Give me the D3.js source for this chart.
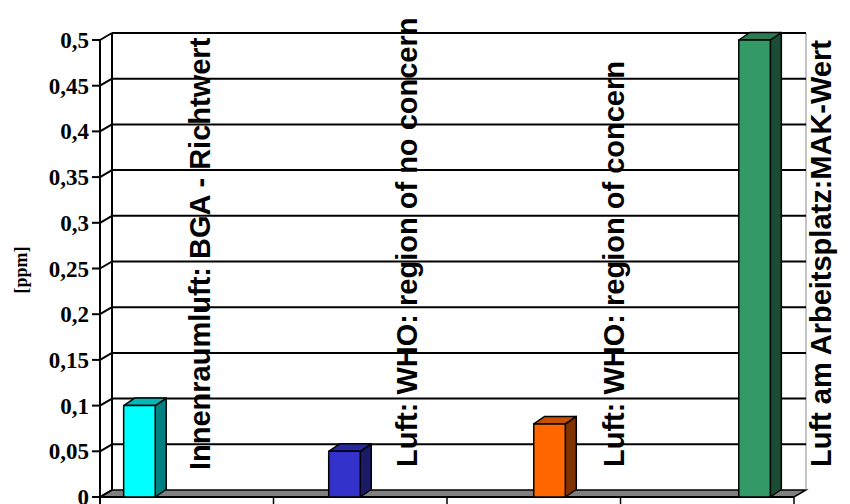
<!DOCTYPE html>
<html><head><meta charset="utf-8">
<script src="https://cdn.jsdelivr.net/npm/d3@7"></script>
<style>html,body{margin:0;padding:0;background:#fff}svg{display:block}</style>
</head><body>
<svg id="chart" width="850" height="504"></svg>
<script>
// ---- data ----
const categories = ["c1", "c2", "c3", "c4"];
const series = [
  "Innenraumluft: BGA - Richtwert",
  "Luft: WHO: region of no concern",
  "Luft: WHO: region of concern",
  "Luft am Arbeitsplatz:MAK-Wert"
];
// values[series][category]; only the diagonal carries a value
const values = [
  [0.1, 0, 0, 0],
  [0, 0.05, 0, 0],
  [0, 0, 0.08, 0],
  [0, 0, 0, 0.5]
];
const yTicks = [0, 0.05, 0.1, 0.15, 0.2, 0.25, 0.3, 0.35, 0.4, 0.45, 0.5];
const yTickLabels = ["0", "0,05", "0,1", "0,15", "0,2", "0,25", "0,3", "0,35", "0,4", "0,45", "0,5"];
const yTitle = "[ppm]";
const colors = [
  {front: "#00FFFF", side: "#008080", top: "#00B8B8"},
  {front: "#3333CC", side: "#1A1A66", top: "#2828A0"},
  {front: "#FF6600", side: "#803300", top: "#C84E00"},
  {front: "#339966", side: "#1A4D33", top: "#2A7A52"}
];

(function () {
// ---- layout ----
const svg = d3.select("#chart");
const pLeft = 100, pRight = 794, pBottom = 497, pTop = 40;
const DX = 12, DY = -7;      // wall depth
const BDX = 11, BDY = -7.5;  // bar depth

const y = d3.scaleLinear().domain([0, 0.5]).range([pBottom, pTop]);
const x0 = d3.scaleBand().domain(categories).range([pLeft, pRight]).padding(0);
const x1 = d3.scaleBand().domain(series).range([0, x0.bandwidth()]).paddingInner(0).paddingOuter(0.75);

// floor
svg.append("path")
  .attr("d", `M${pLeft},${pBottom} L${pLeft+DX},${pBottom+DY} L${pRight+DX},${pBottom+DY} L${pRight},${pBottom} Z`)
  .attr("fill", "#808080").attr("stroke", "#000").attr("stroke-width", 1.5);

// back wall right edge
svg.append("line")
  .attr("x1", pRight+DX).attr("x2", pRight+DX).attr("y1", y(0.5)+DY).attr("y2", pBottom+DY)
  .attr("stroke", "#888").attr("stroke-width", 1);

// back-wall left edge
svg.append("line")
  .attr("x1", pLeft+DX).attr("x2", pLeft+DX).attr("y1", y(0.5)+DY).attr("y2", pBottom+DY)
  .attr("stroke", "#000").attr("stroke-width", 2);

// gridlines + diagonal ticks
yTicks.forEach((t, i) => {
  const yy = y(t);
  if (t > 0) {
    svg.append("line")
      .attr("x1", pLeft+DX).attr("x2", pRight+DX).attr("y1", yy+DY).attr("y2", yy+DY)
      .attr("stroke", "#000").attr("stroke-width", 2);
  }
  svg.append("line")
    .attr("x1", pLeft).attr("x2", pLeft+DX).attr("y1", yy).attr("y2", yy+DY)
    .attr("stroke", "#000").attr("stroke-width", 2);
  svg.append("line")
    .attr("x1", pLeft-8).attr("x2", pLeft).attr("y1", yy).attr("y2", yy)
    .attr("stroke", "#000").attr("stroke-width", 2);
  svg.append("text")
    .attr("x", 89).attr("y", yy).attr("dy", "0.35em")
    .attr("text-anchor", "end")
    .attr("font-family", "'Liberation Serif','Times New Roman',serif")
    .attr("font-weight", "bold").attr("font-size", 23)
    .text(yTickLabels[i]);
});

// front y axis
svg.append("line")
  .attr("x1", pLeft).attr("x2", pLeft).attr("y1", y(0.5)).attr("y2", pBottom+7)
  .attr("stroke", "#000").attr("stroke-width", 2);

// x axis front line & ticks
svg.append("line")
  .attr("x1", pLeft).attr("x2", pRight).attr("y1", pBottom).attr("y2", pBottom)
  .attr("stroke", "#000").attr("stroke-width", 2);
categories.forEach(c => {
  const xx = x0(c) + x0.bandwidth();
  svg.append("line")
    .attr("x1", xx).attr("x2", xx).attr("y1", pBottom).attr("y2", pBottom+7)
    .attr("stroke", "#000").attr("stroke-width", 1.5);
});

// y title
svg.append("text")
  .attr("transform", `translate(27,270) rotate(-90)`)
  .attr("text-anchor", "middle")
  .attr("font-family", "'Liberation Serif','Times New Roman',serif")
  .attr("font-weight", "bold").attr("font-size", 18)
  .text(yTitle);

// bars
series.forEach((s, si) => {
  categories.forEach((c, ci) => {
    const v = values[si][ci];
    if (!v) return;
    const bx = x0(c) + x1(s), bw = x1.bandwidth();
    const by = y(v), bb = y(0);
    const col = colors[si];
    const g = svg.append("g").attr("stroke", "#000").attr("stroke-width", 1.5).attr("stroke-linejoin", "round");
    g.append("path")
      .attr("d", `M${bx+bw},${by} L${bx+bw+BDX},${by+BDY} L${bx+bw+BDX},${bb+BDY} L${bx+bw},${bb} Z`)
      .attr("fill", col.side);
    g.append("path")
      .attr("d", `M${bx},${by} L${bx+BDX},${by+BDY} L${bx+bw+BDX},${by+BDY} L${bx+bw},${by} Z`)
      .attr("fill", col.top);
    g.append("rect")
      .attr("x", bx).attr("y", by).attr("width", bw).attr("height", bb-by)
      .attr("fill", col.front);
  });
});

// annotation labels (series names written vertically)
series.forEach((s, si) => {
  const c = categories[si];
  const bx = x0(c) + x1(s);
  svg.append("text")
    .attr("transform", `translate(${bx + 86 + si*2},${si === 0 ? 470 : 467}) rotate(-90)`)
    .attr("font-family", "'Liberation Sans',Arial,sans-serif")
    .attr("font-weight", "bold").attr("font-size", 29)
    .text(s);
});
})();
</script>
</body></html>
